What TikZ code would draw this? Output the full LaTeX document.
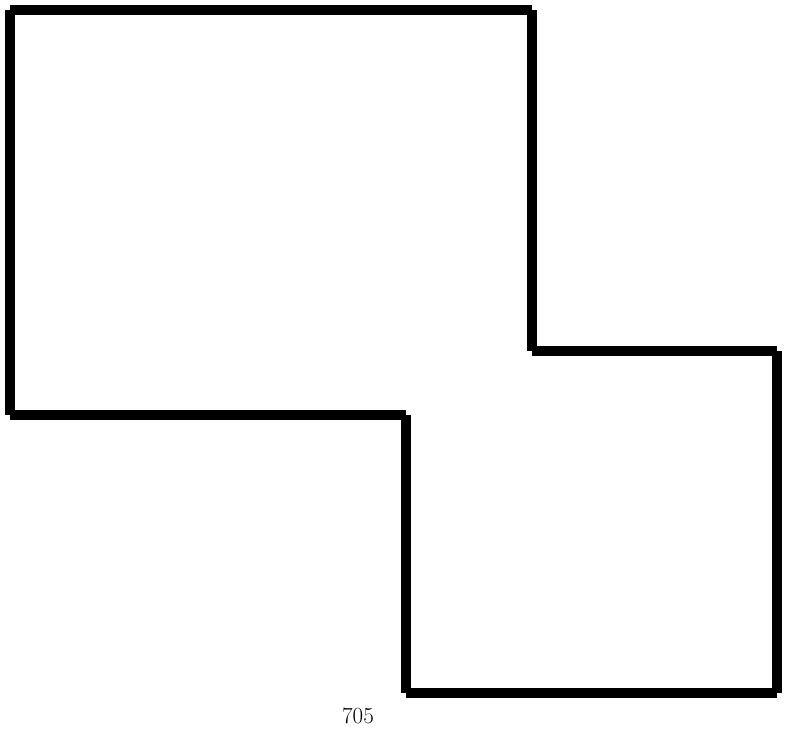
\documentclass[tikz,border=0pt]{standalone}
\begin{document}
\begin{tikzpicture}[x=1pt,y=-1pt,
  edge/.style={line width=9.5pt,line cap=butt,draw=black},
  lbl/.style={font=\fontsize{23}{27}\selectfont,inner sep=0pt}]
\useasboundingbox (0,0) rectangle (788,745);
\coordinate (A) at (10,10);
\coordinate (B) at (532,10);
\coordinate (C) at (532,351);
\coordinate (D) at (777,351);
\coordinate (E) at (777,693);
\coordinate (F) at (406,693);
\coordinate (G) at (406,415);
\coordinate (H) at (10,415);
\draw[edge] (A) -- (B);
\draw[edge] (B) -- (C);
\draw[edge] (C) -- (D);
\draw[edge] (D) -- (E);
\draw[edge] (E) -- (F);
\draw[edge] (F) -- (G);
\draw[edge] (G) -- (H);
\draw[edge] (H) -- (A);
\node[lbl] (t) at (358,716) {705};
\end{tikzpicture}
\end{document}
